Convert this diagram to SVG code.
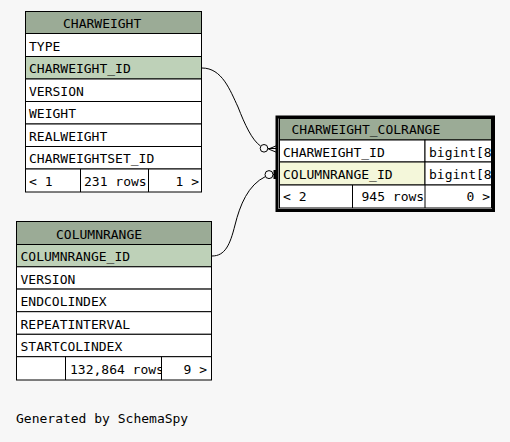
<svg xmlns="http://www.w3.org/2000/svg" width="510" height="442" viewBox="0 0 510 442">
<style>
text{font-family:"DejaVu Sans Mono","Liberation Mono",monospace;font-size:13px;fill:#000}
.c{stroke:#000;stroke-width:1}
.w{fill:#fff}
.h{fill:#9bab96}
.k{fill:#bed1b8}
.y{fill:#f4f7da}
.e{fill:none;stroke:#000;stroke-width:1}
.end{text-anchor:end}
</style>
<defs>
<clipPath id="clipA"><rect x="66" y="356" width="95" height="24"/></clipPath>
<clipPath id="clipB"><rect x="425" y="140" width="67" height="46"/></clipPath>
</defs>
<rect width="510" height="442" fill="#f7f7f7"/>

<g id="connectors">
<path class="e" d="M202,68 C222,68 230,90 238,107 C245,125 252,140 260.5,146"/>
<circle cx="264" cy="148.3" r="3.8" fill="#f7f7f7" stroke="#000"/>
<path class="e" d="M267.8,148.5 L277,148.5 M268.5,149 L277,145.5 M268.5,149 L277,152.5"/>
<path class="e" d="M212,256 C225,256 230,245 235,225 C240,205 248,185 265.5,176.5"/>
<circle cx="269" cy="174.6" r="4" fill="#f7f7f7" stroke="#000"/>
<path class="e" d="M273,174.5 L277,174.5"/>
<rect x="273.5" y="170" width="3" height="9" fill="#000"/>
</g>

<g id="CHARWEIGHT">
<rect class="c h" x="25.5" y="11.5" width="176" height="22"/>
<text x="63" y="27.5">CHARWEIGHT</text>
<rect class="c w" x="25.5" y="33.5" width="176" height="23"/>
<text x="29" y="51">TYPE</text>
<rect class="c k" x="25.5" y="56.5" width="176" height="22.5"/>
<text x="29" y="73">CHARWEIGHT_ID</text>
<rect class="c w" x="25.5" y="79" width="176" height="22.5"/>
<text x="29" y="95.7">VERSION</text>
<rect class="c w" x="25.5" y="101.5" width="176" height="22.5"/>
<text x="29" y="118.3">WEIGHT</text>
<rect class="c w" x="25.5" y="124" width="176" height="22.5"/>
<text x="29" y="140.8">REALWEIGHT</text>
<rect class="c w" x="25.5" y="146.5" width="176" height="22.5"/>
<text x="29" y="163.3">CHARWEIGHTSET_ID</text>
<rect class="c w" x="25.5" y="169" width="176" height="23"/>
<line class="c" x1="80.5" y1="169" x2="80.5" y2="192"/>
<line class="c" x1="148.5" y1="169" x2="148.5" y2="192"/>
<text x="29" y="186">&lt; 1</text>
<text x="84" y="186">231 rows</text>
<text class="end" x="199" y="186">1 &gt;</text>
</g>

<g id="COLUMNRANGE">
<rect class="c h" x="16.5" y="221.5" width="195" height="23"/>
<text x="56" y="238.5">COLUMNRANGE</text>
<rect class="c k" x="16.5" y="244.5" width="195" height="22.3"/>
<text x="20.5" y="261">COLUMNRANGE_ID</text>
<rect class="c w" x="16.5" y="266.8" width="195" height="22.3"/>
<text x="20.5" y="283.5">VERSION</text>
<rect class="c w" x="16.5" y="289.1" width="195" height="22.6"/>
<text x="20.5" y="306">ENDCOLINDEX</text>
<rect class="c w" x="16.5" y="311.7" width="195" height="22.6"/>
<text x="20.5" y="328.5">REPEATINTERVAL</text>
<rect class="c w" x="16.5" y="334.3" width="195" height="22.4"/>
<text x="20.5" y="351">STARTCOLINDEX</text>
<rect class="c w" x="16.5" y="356.7" width="195" height="23.3"/>
<line class="c" x1="65.5" y1="356.7" x2="65.5" y2="380"/>
<line class="c" x1="161.5" y1="356.7" x2="161.5" y2="380"/>
<text x="70" y="374" clip-path="url(#clipA)">132,864 rows</text>
<text class="end" x="207" y="374">9 &gt;</text>
</g>

<g id="CHARWEIGHT_COLRANGE">
<rect class="c h" x="279.5" y="118.5" width="212" height="21.5"/>
<text x="291.5" y="133.5">CHARWEIGHT_COLRANGE</text>
<rect class="c w" x="279.5" y="140" width="145.5" height="22"/>
<rect class="c w" x="425" y="140" width="66.5" height="22"/>
<text x="283" y="156.7">CHARWEIGHT_ID</text>
<rect class="c y" x="279.5" y="162" width="145.5" height="23"/>
<rect class="c w" x="425" y="162" width="66.5" height="23"/>
<text x="283" y="179">COLUMNRANGE_ID</text>
<text x="429" y="156.7" clip-path="url(#clipB)">bigint[8]</text>
<text x="429" y="179" clip-path="url(#clipB)">bigint[8]</text>
<rect class="c w" x="279.5" y="185" width="212" height="23"/>
<line class="c" x1="352.5" y1="185" x2="352.5" y2="208"/>
<line class="c" x1="425" y1="185" x2="425" y2="208"/>
<text x="283" y="201">&lt; 2</text>
<text x="361.5" y="201">945 rows</text>
<text class="end" x="490" y="201">0 &gt;</text>
<rect x="277" y="117" width="216.5" height="93.5" fill="none" stroke="#000" stroke-width="3"/>
</g>

<text x="16" y="423.3">Generated by SchemaSpy</text>
</svg>
